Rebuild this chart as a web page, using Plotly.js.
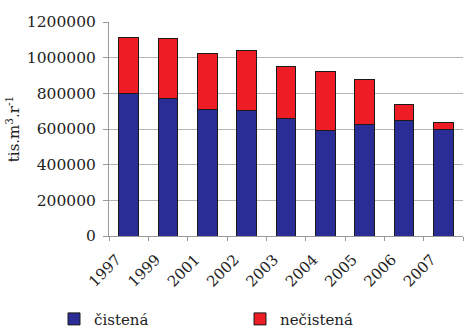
<!DOCTYPE html>
<html>
<head>
<meta charset="utf-8">
<script src="https://cdn.plot.ly/plotly-3.0.1.min.js"></script>
<style>
  html, body { margin: 0; padding: 0; background: #fff; }
  #chart { width: 465px; height: 329px; }
</style>
</head>
<body>
<div id="chart"></div>
<script>
// Roky a objemy odpadových vôd (tis. m3 za rok)
const years = ["1997", "1999", "2001", "2002", "2003", "2004", "2005", "2006", "2007"];
const cistena = [800000, 772000, 710000, 701000, 658000, 594000, 628000, 647000, 600000];
const necistena = [312000, 333000, 314000, 338000, 293000, 331000, 252000, 89000, 37000];
const seriesNames = ["čistená", "nečistená"];
const yTicks = [0, 200000, 400000, 600000, 800000, 1000000, 1200000];

const serif = "DejaVu Serif";
const textColor = "#222";

const traces = [
  {
    type: "bar", name: seriesNames[0], x: years, y: cistena, legend: "legend",
    marker: { color: "#2B2D96", line: { color: "#1a1a1a", width: 1 } },
    hoverinfo: "x+y"
  },
  {
    type: "bar", name: seriesNames[1], x: years, y: necistena, legend: "legend2",
    marker: { color: "#EE1C24", line: { color: "#1a1a1a", width: 1 } },
    hoverinfo: "x+y"
  }
];

// Každá séria má vlastnú legendu, aby sa dali umiestniť vedľa seba
function legendAt(x) {
  return {
    orientation: "h",
    xref: "container", x: x, xanchor: "left",
    yref: "container", y: 0.03, yanchor: "middle",
    itemwidth: 30,
    font: { family: serif, size: 15, color: textColor },
    bgcolor: "rgba(0,0,0,0)"
  };
}

const layout = {
  width: 465, height: 329,
  margin: { l: 109, r: 2, t: 22, b: 93 },
  paper_bgcolor: "#fff", plot_bgcolor: "#fff",
  barmode: "stack",
  bargap: 0.5,
  showlegend: true,
  font: { family: serif, color: textColor, size: 15 },
  xaxis: {
    type: "category",
    tickangle: -45,
    tickson: "boundaries",
    ticks: "outside", ticklen: 4, tickcolor: "#999",
    showline: true, linecolor: "#999", linewidth: 1,
    showgrid: false,
    ticklabelstandoff: 8,
    ticklabelshift: -12,
    tickfont: { family: serif, size: 15, color: textColor }
  },
  yaxis: {
    range: [0, 1200000],
    tickvals: yTicks,
    ticktext: yTicks.map(String),
    ticks: "outside", ticklen: 5, tickcolor: "#999",
    showline: true, linecolor: "#999", linewidth: 1,
    gridcolor: "#b5b5b5", gridwidth: 1,
    zeroline: false,
    ticklabelstandoff: 4,
    tickfont: { family: serif, size: 15.5, color: textColor },
    title: { text: "tis.m<sup>3</sup>.r<sup>-1</sup>", font: { family: serif, size: 15, color: textColor }, standoff: 3 }
  },
  legend: legendAt(54 / 465),
  legend2: legendAt(240 / 465)
};

Plotly.newPlot("chart", traces, layout, { displayModeBar: false, staticPlot: true });
</script>
</body>
</html>
